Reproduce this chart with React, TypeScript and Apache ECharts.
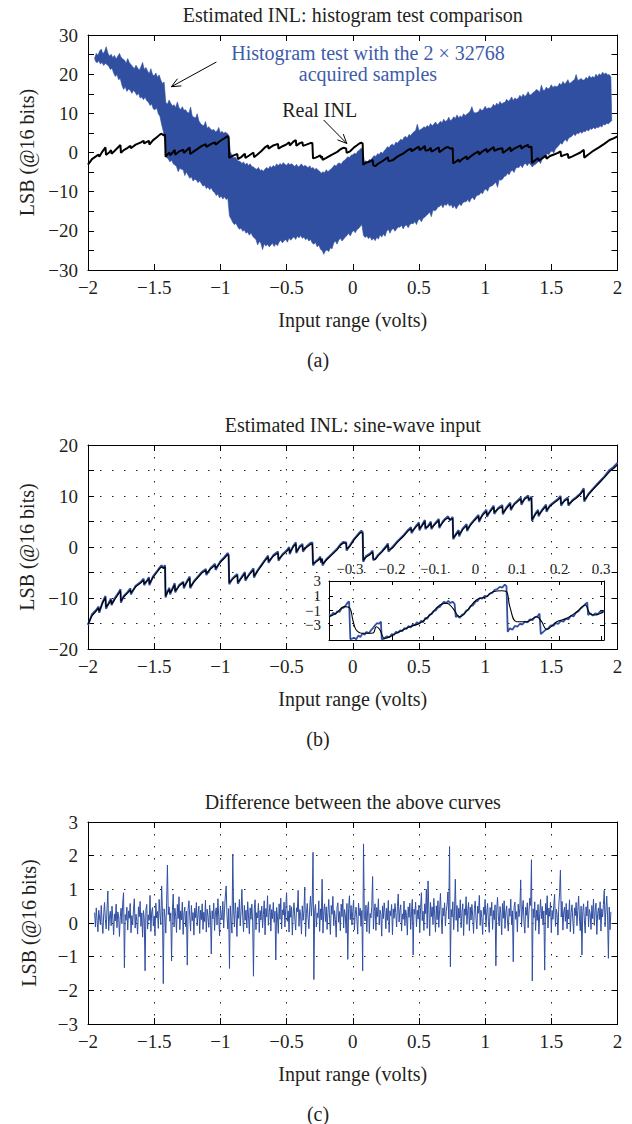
import React, { useEffect, useRef } from "react";
import * as echarts from "echarts";

const FONT = "'Liberation Serif', 'Times New Roman', Times, serif";
const INK = "#231F20";
const BLUE = "#314FA1";
const ANN_BLUE = "#3D5CAB";

// ---------------- texts ----------------
const panelTitles = [
  "Estimated INL: histogram test comparison",
  "Estimated INL: sine-wave input",
  "Difference between the above curves",
];
const panelTags = ["(a)", "(b)", "(c)"];
const xName = "Input range (volts)";
const yName = "LSB (@16 bits)";
const histLabel = ["Histogram test with the 2 \u00d7 32768", "acquired samples"];
const realLabel = "Real INL";

// ---------------- panel (a): histogram-test band (sample grid, 0.0125 V) ----------------
const BAND_X0 = -1.95;
const BAND_STEP = 0.0125;
const bandUpper = [
  24.1, 25.3, 24.8, 25.9, 26.4, 25.2, 25.8, 27.0,
  25.4, 24.6, 25.1, 24.2, 24.8, 23.9, 24.6, 25.3,
  24.3, 23.9, 23.6, 22.8, 24.0, 22.9, 22.5, 21.9,
  21.4, 22.3, 21.6, 21.0, 21.9, 23.0, 21.2, 21.7,
  20.8, 20.1, 21.4, 19.9, 19.6, 20.3, 19.2, 19.8,
  18.5, 17.6, 18.0, 12.8, 12.3, 13.4, 12.6, 11.9,
  12.2, 11.5, 12.9, 11.4, 11.0, 11.7, 10.8, 10.9,
  10.2, 10.1, 11.6, 9.3, 9.0, 8.8, 9.9, 8.1,
  7.4, 7.0, 6.8, 7.9, 6.2, 6.6, 6.0, 5.7,
  5.9, 5.3, 5.5, 6.4, 5.0, 5.4, 4.9, 5.2,
  4.9, 4.5, 0.2, -0.7, -1.4, -1.2, -1.9, -2.2,
  -2.3, -2.8, -2.4, -3.1, -2.7, -3.3, -2.9, -3.6,
  -3.7, -4.1, -4.3, -3.8, -4.6, -4.4, -4.8, -4.2,
  -3.8, -4.2, -3.5, -3.9, -3.3, -3.7, -2.9, -3.4,
  -2.8, -3.2, -2.6, -3.0, -3.3, -2.7, -3.1, -2.9,
  -3.2, -3.6, -3.0, -3.7, -3.4, -2.9, -3.6, -3.3,
  -3.5, -3.9, -3.4, -4.1, -3.8, -4.4, -4.0, -4.5,
  -4.8, -5.3, -4.9, -5.2, -4.4, -4.9, -4.5, -4.2,
  -3.7, -3.2, -3.5, -2.8, -2.7, -3.0, -2.3, -2.0,
  -1.6, -1.1, -1.3, -0.7, -0.6, -0.2, -0.4, 0.3,
  0.6, 1.1, 0.9, -2.4, -2.1, -2.5, -1.8, -1.9,
  -1.2, -0.8, -1.0, -0.3, -0.5, 0.1, -0.2, 0.4,
  0.9, 1.5, 1.2, 1.9, 2.1, 1.7, 2.6, 2.4,
  2.9, 3.4, 3.1, 3.9, 4.1, 3.7, 4.6, 4.3,
  4.9, 5.3, 5.6, 7.2, 5.6, 5.9, 6.1, 6.6,
  6.3, 6.9, 6.5, 7.4, 6.8, 7.2, 7.8, 7.1,
  7.4, 8.0, 7.6, 8.5, 7.9, 8.2, 9.0, 8.1,
  8.4, 9.1, 8.7, 9.6, 8.9, 9.3, 9.0, 9.9,
  9.4, 9.8, 10.1, 10.6, 11.7, 10.3, 10.1, 10.2,
  10.4, 11.2, 10.7, 11.0, 11.8, 11.1, 11.4, 11.3,
  11.5, 12.3, 11.8, 12.6, 12.1, 13.0, 12.4, 12.7,
  12.8, 13.6, 13.1, 13.4, 14.2, 13.3, 13.9, 13.6,
  13.8, 14.6, 14.1, 14.9, 14.3, 14.7, 15.5, 14.6,
  14.9, 15.3, 15.6, 16.1, 15.8, 15.4, 17.2, 15.9,
  15.9, 16.7, 16.2, 16.5, 17.3, 16.6, 17.0, 16.8,
  16.9, 17.7, 17.2, 18.1, 17.5, 17.9, 18.6, 17.6,
  17.9, 18.3, 18.6, 19.9, 18.4, 18.6, 18.9, 18.5,
  18.5, 19.2, 18.8, 19.6, 19.0, 19.4, 19.1, 20.0,
  19.4, 20.1, 19.7, 20.5, 20.0, 20.3, 19.8, 19.9,
  19.3,
];
const bandLower = [
  23.3, 22.9, 23.4, 22.6, 23.0, 22.2, 22.8, 22.4,
  22.1, 21.2, 21.5, 20.3, 19.4, 19.9, 18.6, 18.9,
  17.2, 16.1, 16.8, 15.6, 16.2, 15.9, 15.1, 15.8,
  15.4, 14.6, 15.1, 13.9, 14.2, 13.5, 14.1, 13.2,
  12.9, 12.0, 12.4, 11.1, 10.9, 11.4, 9.9, 9.2,
  7.1, 5.4, 3.0, -1.3, -1.6, -2.4, -1.9, -2.9,
  -3.2, -3.6, -4.9, -4.0, -4.3, -4.4, -5.9, -5.0,
  -5.8, -6.6, -6.2, -7.3, -6.8, -7.0, -7.7, -7.2,
  -7.9, -8.6, -8.3, -9.2, -8.8, -9.5, -9.0, -9.9,
  -10.2, -11.0, -10.6, -11.6, -11.1, -11.9, -11.3, -12.0,
  -11.7, -16.2, -17.0, -17.9, -18.4, -18.1, -19.0, -19.6,
  -19.3, -20.1, -19.8, -20.6, -20.3, -21.1, -20.5, -21.4,
  -21.8, -22.2, -23.6, -22.7, -23.2, -24.8, -23.3, -23.9,
  -23.4, -24.1, -23.6, -23.2, -24.0, -23.3, -23.8, -22.9,
  -22.4, -23.1, -22.5, -22.2, -22.9, -21.8, -22.4, -21.9,
  -21.5, -22.2, -21.3, -21.8, -21.2, -21.9, -21.6, -22.3,
  -21.9, -22.6, -22.2, -23.1, -23.4, -23.0, -24.1, -23.6,
  -24.7, -25.0, -26.0, -25.1, -24.9, -25.3, -24.3, -24.6,
  -23.1, -22.6, -23.4, -22.4, -21.9, -22.6, -22.1, -21.6,
  -21.2, -20.6, -21.3, -20.4, -19.9, -20.5, -19.7, -19.4,
  -18.9, -18.4, -21.2, -21.7, -21.3, -22.0, -21.5, -22.4,
  -21.9, -22.5, -21.7, -22.1, -21.0, -21.6, -20.8, -21.4,
  -20.1, -19.6, -20.6, -19.7, -19.4, -20.1, -19.5, -19.0,
  -19.1, -18.6, -19.5, -18.7, -18.5, -19.2, -18.4, -18.1,
  -18.2, -17.6, -18.4, -17.3, -17.0, -17.7, -16.8, -16.5,
  -16.1, -15.7, -15.2, -16.4, -14.7, -14.9, -14.6, -13.9,
  -13.8, -13.3, -14.1, -13.2, -13.5, -12.9, -13.7, -13.3,
  -14.2, -13.5, -14.4, -13.7, -13.1, -13.6, -12.8, -12.6,
  -12.6, -12.0, -12.7, -11.8, -11.5, -12.1, -11.2, -10.9,
  -10.8, -10.2, -10.5, -9.6, -9.3, -9.9, -8.8, -8.6,
  -8.4, -8.0, -7.6, -8.9, -6.9, -7.1, -6.8, -6.1,
  -6.0, -5.3, -5.7, -4.8, -4.5, -5.1, -4.0, -3.8,
  -3.8, -3.2, -3.9, -3.0, -2.8, -3.4, -2.7, -3.1,
  -3.7, -3.2, -3.0, -2.6, -2.2, -2.8, -1.7, -1.2,
  -0.8, -0.3, -0.6, 0.2, 0.4, -0.1, 0.9, 1.3,
  1.8, 2.4, 2.1, 2.9, 3.3, 2.8, 3.7, 3.9,
  4.2, 4.7, 4.3, 5.0, 4.8, 5.3, 4.9, 5.4,
  5.3, 5.8, 5.5, 6.1, 5.9, 6.4, 6.0, 6.5,
  6.3, 6.8, 6.5, 7.2, 7.0, 7.5, 7.3, 7.8,
  8.1,
];

// ---------------- INL curve vertices (volts) ----------------
const inlX = [
  -2.0, -1.97, -1.94, -1.92, -1.915, -1.89, -1.868, -1.864, -1.84, -1.826,
  -1.822, -1.8, -1.77, -1.755, -1.751, -1.73, -1.7, -1.68, -1.676, -1.64,
  -1.6, -1.58, -1.576, -1.545, -1.54, -1.536, -1.51, -1.48, -1.46, -1.445,
  -1.43, -1.418, -1.414, -1.4, -1.385, -1.38, -1.36, -1.345, -1.341, -1.31,
  -1.28, -1.276, -1.25, -1.232, -1.228, -1.2, -1.17, -1.14, -1.11, -1.106,
  -1.07, -1.04, -1.036, -1.0, -0.97, -0.945, -0.938, -0.933, -0.91, -0.89,
  -0.872, -0.868, -0.84, -0.815, -0.811, -0.78, -0.75, -0.746, -0.72, -0.69,
  -0.66, -0.64, -0.636, -0.6, -0.565, -0.561, -0.53, -0.5, -0.48, -0.476,
  -0.45, -0.43, -0.426, -0.4, -0.38, -0.376, -0.35, -0.32, -0.305, -0.3,
  -0.28, -0.26, -0.245, -0.24, -0.232, -0.228, -0.2, -0.16, -0.12, -0.09,
  -0.07, -0.05, -0.046, -0.02, 0.01, 0.03, 0.05, 0.065, 0.075, 0.079,
  0.1, 0.13, 0.15, 0.155, 0.17, 0.19, 0.22, 0.25, 0.265, 0.27,
  0.3, 0.34, 0.38, 0.42, 0.44, 0.444, 0.48, 0.5, 0.504, 0.53,
  0.545, 0.549, 0.57, 0.59, 0.594, 0.62, 0.65, 0.654, 0.68, 0.7,
  0.72, 0.735, 0.755, 0.759, 0.78, 0.8, 0.804, 0.83, 0.86, 0.864,
  0.89, 0.92, 0.95, 0.954, 0.98, 1.01, 1.014, 1.04, 1.065, 1.069,
  1.1, 1.13, 1.134, 1.16, 1.19, 1.194, 1.22, 1.25, 1.27, 1.274,
  1.3, 1.325, 1.33, 1.35, 1.354, 1.38, 1.4, 1.404, 1.43, 1.46,
  1.464, 1.49, 1.52, 1.55, 1.57, 1.574, 1.6, 1.625, 1.629, 1.66,
  1.69, 1.72, 1.745, 1.749, 1.78, 1.82, 1.86, 1.9, 1.94, 1.97,
  2.0,
];
// panel (a) black: real INL
const realInlA = [
  -3.1, -1.7, -1.0, -0.5, -1.1, 0.3, 1.3, -0.6, 0.0, 0.6,
  -0.3, 0.4, 1.4, 1.9, -0.1, 0.6, 1.2, 1.7, 1.1, 2.0,
  2.6, 3.0, 2.3, 2.9, 3.0, 2.0, 3.1, 3.9, 4.5, 4.8,
  4.4, 4.6, -1.1, -0.5, 0.0, -0.7, 0.0, 0.7, -0.6, 0.3,
  0.7, -0.1, 0.7, 1.3, -0.4, 0.3, 1.0, 1.7, 2.1, 1.4,
  2.2, 2.6, 2.0, 3.0, 3.6, 4.2, 3.9, -1.4, -0.9, -0.6,
  -0.4, -1.7, -1.1, -0.3, -1.4, -0.7, 0.0, -1.2, -0.5, 0.4,
  1.4, 1.8, 1.0, 1.8, 2.2, 1.0, 1.6, 2.1, 2.6, 1.8,
  2.7, 3.2, 1.7, 2.4, 2.6, 1.7, 2.0, 2.4, 2.4, -1.5,
  -1.3, -1.0, -0.7, -1.4, -1.0, -1.9, -1.4, -0.6, 0.1, 0.9,
  1.2, 1.0, -0.1, 0.3, 1.3, 1.8, 2.3, 2.5, 2.3, -3.1,
  -2.6, -2.3, -1.9, -3.2, -3.5, -2.9, -2.3, -1.6, -1.2, -2.2,
  -2.0, -1.0, -0.3, 0.7, 1.0, 0.3, 1.1, 1.5, 0.6, 1.2,
  1.7, 0.5, 0.6, 1.2, 0.2, 0.7, 1.3, 0.1, 0.7, 1.2,
  1.4, 1.0, 1.1, -2.8, -2.3, -1.8, -2.4, -1.6, -1.0, -1.8,
  -1.0, -0.3, 0.3, -0.5, 0.3, 0.9, 0.1, 0.8, 1.4, 0.4,
  0.9, 1.1, -0.1, 0.5, 1.3, 0.3, 1.0, 1.5, 1.8, 1.0,
  1.6, 1.9, 1.3, 1.5, -2.7, -1.9, -1.4, -2.1, -1.5, -0.8,
  -1.6, -0.9, -0.5, -0.1, 0.3, -1.0, -0.6, -0.4, -1.4, -1.0,
  -0.5, 0.0, 0.7, -1.3, -0.5, 0.5, 1.3, 2.2, 3.2, 3.6,
  4.1,
];
// panel (b) black
const sineBlack = [
  -15.1, -13.5, -12.6, -12.0, -12.6, -11.0, -9.9, -11.8, -11.0, -10.4,
  -11.2, -10.4, -9.2, -8.6, -10.6, -9.8, -9.0, -8.4, -9.0, -7.8,
  -7.0, -6.5, -7.2, -6.4, -6.2, -7.2, -6.0, -5.0, -4.3, -3.9,
  -4.2, -3.9, -9.6, -8.9, -8.3, -9.0, -8.2, -7.4, -8.6, -7.6,
  -7.0, -7.8, -6.8, -6.1, -7.8, -6.9, -6.0, -5.1, -4.6, -5.2,
  -4.2, -3.6, -4.2, -3.0, -2.2, -1.5, -1.7, -7.0, -6.4, -5.9,
  -5.6, -6.9, -6.1, -5.2, -6.3, -5.4, -4.5, -5.7, -4.8, -3.7,
  -2.6, -2.0, -2.8, -1.8, -1.2, -2.4, -1.6, -0.9, -0.3, -1.1,
  0.0, 0.6, -0.9, 0.0, 0.3, -0.6, -0.1, 0.5, 0.6, -3.3,
  -3.0, -2.6, -2.2, -2.8, -2.4, -3.3, -2.6, -1.6, -0.6, 0.4,
  0.8, 0.7, -0.4, 0.2, 1.4, 2.0, 2.6, 2.9, 2.7, -2.6,
  -2.0, -1.5, -1.0, -2.3, -2.5, -1.8, -1.0, -0.1, 0.4, -0.6,
  -0.2, 1.0, 2.0, 3.2, 3.6, 3.0, 4.0, 4.5, 3.6, 4.4,
  5.0, 3.8, 4.0, 4.7, 3.8, 4.4, 5.2, 4.0, 4.8, 5.4,
  5.7, 5.4, 5.6, 1.8, 2.4, 3.0, 2.4, 3.4, 4.2, 3.4,
  4.3, 5.2, 6.0, 5.2, 6.2, 7.0, 6.2, 7.0, 7.8, 6.8,
  7.5, 7.9, 6.7, 7.5, 8.4, 7.5, 8.3, 9.0, 9.4, 8.6,
  9.4, 9.8, 9.3, 9.6, 5.4, 6.4, 7.0, 6.3, 7.1, 8.0,
  7.2, 8.0, 8.6, 9.2, 9.7, 8.4, 9.0, 9.4, 8.4, 9.0,
  9.6, 10.3, 11.2, 9.2, 10.2, 11.4, 12.5, 13.6, 14.8, 15.4,
  16.1,
];
// panel (b) blue
const sineBlue = [
  -15.3, -13.2, -12.4, -11.7, -12.9, -10.8, -9.6, -12.1, -10.8, -10.1,
  -11.4, -10.1, -9.0, -8.3, -10.9, -9.6, -8.8, -8.1, -9.3, -7.6,
  -6.8, -6.2, -7.5, -6.2, -5.9, -7.5, -5.8, -4.8, -4.1, -3.6,
  -4.0, -3.6, -9.9, -8.7, -8.0, -9.3, -8.0, -7.1, -8.9, -7.4,
  -6.8, -8.1, -6.6, -5.8, -8.1, -6.7, -5.8, -4.9, -4.3, -5.5,
  -4.0, -3.3, -4.5, -2.8, -2.0, -1.2, -1.5, -7.3, -6.2, -5.7,
  -5.3, -7.2, -5.9, -4.9, -6.6, -5.2, -4.2, -6.0, -4.6, -3.5,
  -2.4, -1.7, -3.1, -1.6, -0.9, -2.7, -1.4, -0.7, 0.0, -1.4,
  0.2, 0.9, -1.2, 0.2, 0.6, -0.9, 0.1, 0.8, 0.9, -3.6,
  -2.8, -2.4, -1.9, -3.1, -2.2, -3.6, -2.4, -1.4, -0.4, 0.6,
  1.0, 0.9, -0.7, 0.4, 1.6, 2.2, 2.8, 3.2, 2.9, -2.9,
  -1.8, -1.3, -0.7, -2.6, -2.3, -1.6, -0.8, 0.1, 0.7, -0.9,
  0.0, 1.2, 2.2, 3.4, 3.9, 2.7, 4.2, 4.8, 3.3, 4.6,
  5.3, 3.5, 4.2, 5.0, 3.5, 4.6, 5.5, 3.7, 5.0, 5.6,
  6.0, 5.2, 5.9, 1.5, 2.6, 3.3, 2.1, 3.6, 4.5, 3.1,
  4.5, 5.4, 6.3, 4.9, 6.4, 7.3, 5.9, 7.2, 8.1, 6.5,
  7.7, 8.2, 6.4, 7.7, 8.7, 7.2, 8.5, 9.2, 9.7, 8.3,
  9.6, 10.1, 9.0, 9.9, 5.1, 6.6, 7.3, 6.0, 7.3, 8.3,
  6.9, 8.2, 8.8, 9.4, 10.0, 8.1, 9.2, 9.7, 8.1, 9.2,
  9.8, 10.5, 11.5, 8.9, 10.4, 11.6, 12.7, 13.8, 15.1, 15.7,
  16.5,
];

// ---------------- inset (zoom of panel b) ----------------
const insetBlackX = [
  -0.35, -0.333, -0.313, -0.3, -0.293, -0.285, -0.269, -0.245, -0.237, -0.229,
  -0.217, -0.189, -0.157, -0.133, -0.109, -0.085, -0.069, -0.054, -0.038, -0.022,
  0.002, 0.026, 0.042, 0.062, 0.074, 0.082, 0.098, 0.122, 0.146, 0.158,
  0.17, 0.194, 0.218, 0.242, 0.262, 0.273, 0.285, 0.305,
];
const insetBlackY = [
  -1.84, -1.38, -0.48, -0.7, -2.29, -3.64, -4.09, -4.05, -3.2, -3.55,
  -4.77, -4.09, -3.2, -2.74, -1.61, -0.25, -0.02, -0.7, -1.84, -1.16,
  0.42, 0.87, 1.55, 1.68, 1.55, -0.48, -2.52, -2.52, -1.84, -2.52,
  -3.55, -2.52, -2.06, -1.16, -0.25, -1.38, -1.61, -1.16,
];
const insetBlueX = [
  -0.35, -0.345, -0.34, -0.335, -0.33, -0.325, -0.32, -0.315, -0.31, -0.305,
  -0.302, -0.299, -0.29, -0.285, -0.28, -0.275, -0.27, -0.265, -0.26, -0.255,
  -0.25, -0.245, -0.24, -0.235, -0.23, -0.226, -0.224, -0.218, -0.212, -0.205,
  -0.2, -0.195, -0.19, -0.185, -0.18, -0.175, -0.17, -0.165, -0.16, -0.155,
  -0.15, -0.145, -0.14, -0.135, -0.13, -0.125, -0.12, -0.115, -0.11, -0.105,
  -0.1, -0.095, -0.09, -0.085, -0.08, -0.075, -0.07, -0.065, -0.06, -0.055,
  -0.05, -0.047, -0.043, -0.038, -0.033, -0.028, -0.022, -0.017, -0.012, -0.006,
  0.0, 0.005, 0.01, 0.016, 0.022, 0.028, 0.034, 0.04, 0.046, 0.052,
  0.058, 0.064, 0.07, 0.074, 0.077, 0.082, 0.088, 0.094, 0.1, 0.106,
  0.112, 0.118, 0.124, 0.13, 0.136, 0.142, 0.148, 0.153, 0.156, 0.162,
  0.168, 0.174, 0.18, 0.186, 0.192, 0.198, 0.204, 0.21, 0.216, 0.222,
  0.228, 0.234, 0.24, 0.246, 0.252, 0.258, 0.263, 0.267, 0.269, 0.275,
  0.28, 0.286, 0.292, 0.298, 0.303, 0.307,
];
const insetBlueY = [
  -1.5, -1.7, -1.3, -1.5, -1.1, -1.2, -0.7, -0.6, -0.3, 0.1,
  0.2, -4.9, -4.7, -4.9, -4.4, -4.6, -4.1, -4.3, -3.9, -4.1,
  -3.7, -3.4, -3.0, -2.7, -2.8, -2.5, -4.9, -4.8, -4.5, -4.6,
  -4.2, -4.3, -3.9, -4.0, -3.7, -3.8, -3.4, -3.5, -3.1, -3.3,
  -2.9, -3.0, -2.6, -2.8, -2.4, -2.6, -2.0, -2.1, -1.6, -1.5,
  -1.1, -1.0, -0.6, -0.5, -0.1, 0.2, 0.0, 0.3, 0.0, 0.2,
  -0.1, -1.9, -1.7, -2.0, -1.6, -1.5, -1.0, -0.9, -0.4, -0.3,
  0.2, 0.3, 0.7, 0.6, 1.0, 0.9, 1.3, 1.4, 1.8, 1.9,
  2.2, 2.1, 2.5, 2.3, -3.9, -3.4, -3.6, -3.1, -3.2, -2.8,
  -2.9, -2.5, -2.6, -2.2, -2.3, -1.9, -1.8, -1.4, -4.2, -3.9,
  -3.6, -3.4, -3.0, -3.1, -2.7, -2.8, -2.4, -2.5, -2.1, -2.2,
  -1.7, -1.8, -1.3, -1.1, -0.7, -0.4, -0.1, 0.1, -1.6, -1.4,
  -1.7, -1.4, -1.5, -1.1, -1.3, -1.0,
];
const insetTicks = [-0.3, -0.2, -0.1, 0, 0.1, 0.2, 0.3];
const insetYTicks = [-3, -1, 1, 3];

// ---------------- panel (c): difference (sample grid, 0.00625 V) ----------------
const DIFF_X0 = -1.95;
const DIFF_STEP = 0.00625;
const diffVals = [
  0.31, -0.12, 0.45, 0.08, -0.26, 0.38, 0.15, -0.05, 0.52, 0.02,
  -0.31, 0.28, 0.61, 0.10, -0.18, 0.42, 0.95, -0.22, 0.18, 0.35,
  -0.08, 0.50, 0.12, -0.35, 0.27, 0.06, 0.56, -0.14, 0.33, 0.21,
  -0.40, 0.18, 0.44, -0.02, 0.62, 0.90, -1.33, 0.25, 0.08, 0.47,
  -0.21, 0.36, 0.14, 0.58, -0.29, 0.22, -0.06, 0.41, 0.72, -0.15,
  0.26, 0.05, -0.33, 0.48, 0.19, 0.64, -0.10, 0.30, -0.42, 0.37,
  0.12, -1.42, 0.40, 0.55, -0.18, 0.24, 0.08, 0.82, -0.25, 0.33,
  0.46, -0.09, 0.21, -0.38, 0.59, 0.15, 0.34, -0.16, 0.70, 0.28,
  -0.05, 1.10, 0.35, -1.80, 0.42, 0.18, -0.30, 0.60, 1.72, 0.25,
  0.48, 0.05, 0.30, -1.13, 0.38, 0.86, -0.12, 0.44, 0.20, -0.28,
  0.55, 0.13, 0.78, -0.20, 0.36, 0.09, 0.62, -0.34, 0.29, 0.47,
  -0.11, 0.35, -1.25, 0.40, 0.66, 0.18, -0.24, 0.52, 0.07, 0.31,
  -0.36, 0.44, 0.16, 0.61, -0.08, 0.27, 0.50, -0.31, 0.38, 0.10,
  0.57, -0.19, 0.32, 0.04, 0.68, -0.27, 0.41, 0.20, -0.13, 0.53,
  0.24, -0.92, 0.36, 0.12, 0.59, -0.22, 0.30, 0.45, -0.06, 0.72,
  0.18, -0.38, 0.48, 0.26, 0.09, 0.64, -0.15, 0.39, 0.80, 1.10,
  0.22, -0.18, 0.43, -1.35, 0.51, 0.07, -0.30, 2.05, 0.36, -0.12,
  0.60, 0.25, -0.40, 0.47, 0.14, 0.70, -0.09, 0.33, 1.00, 0.19,
  -0.26, 0.52, 0.08, 0.38, -0.15, 0.63, 0.21, -0.32, 0.45, 0.11,
  0.56, 0.04, -1.58, 0.42, 0.69, -0.20, 0.31, 0.15, 0.58, -0.28,
  0.37, 0.09, 0.50, -0.14, 0.26, 0.66, -0.35, 0.43, 0.18, 0.81,
  -0.07, 0.32, 0.55, -0.24, 0.40, 0.13, 0.61, 0.02, 0.35, -1.10,
  0.46, 0.20, -0.31, 0.57, 0.11, 0.74, -0.18, 0.39, 0.24, 0.62,
  -0.12, 0.44, 0.90, 0.05, 0.36, -0.27, 0.53, 0.17, 0.48, -0.36,
  0.29, 0.60, 0.12, -0.21, 0.45, 0.33, 0.97, -0.10, 0.40, 0.22,
  -0.33, 0.51, 0.08, 0.36, 1.07, -0.40, 0.28, 0.58, 0.14, -0.17,
  0.47, 0.80, 0.21, 0.63, 2.10, -1.68, 0.38, 0.55, -0.12, 0.30,
  0.16, 0.66, -0.25, 0.42, 0.09, 1.30, -0.30, 0.35, 0.57, 0.04,
  0.48, -0.19, 0.31, 0.70, 0.13, -0.34, 0.52, 0.26, 0.79, -0.08,
  0.37, 0.11, -0.42, 0.45, 0.60, 0.02, 0.34, -0.23, 0.56, 0.19,
  0.71, -0.15, 0.40, 0.24, -0.30, 0.58, -1.08, 0.43, 0.81, 0.10,
  0.52, -0.06, 0.35, 0.68, -0.21, 0.27, 0.47, 0.12, -0.33, 0.59,
  0.22, 0.44, -0.10, 0.37, -1.42, 2.35, 0.20, 0.06, 0.53, -0.26,
  0.41, 0.63, -0.31, 0.28, 0.15, 0.49, 1.38, -0.18, 0.34, 0.57,
  -0.22, 0.46, 0.19, 0.72, -0.06, 0.38, 0.25, -0.39, 0.51, 0.13,
  0.60, 0.30, -0.17, 0.44, 0.08, 0.67, -0.28, 0.36, 0.21, 0.55,
  -0.35, 0.42, 0.14, 0.58, 0.31, -0.12, 0.49, 0.86, 0.03, 0.37,
  0.54, -0.24, 0.27, 0.11, 0.65, -0.08, 0.39, 0.22, -0.36, 0.48,
  0.17, 0.59, -0.19, 0.33, 0.70, -0.95, 0.41, 0.26, 0.62, -0.11,
  0.38, 0.12, 0.53, -0.29, 0.46, 0.90, 0.07, 0.35, -0.22, 0.57,
  0.28, 1.00, -0.16, 1.25, 0.40, -0.38, 0.61, 0.19, 0.48, -0.05,
  0.73, 0.24, -0.27, 0.51, 0.10, 0.66, -0.13, 0.39, 0.88, 0.17,
  -0.32, 0.45, 0.21, 0.60, -0.09, 0.34, 0.56, 0.92, 0.12, 2.27,
  -1.30, 0.40, 0.18, 0.63, -0.20, 0.35, 1.30, 0.08, 0.52, -0.26,
  0.44, 0.15, 0.69, -0.14, 0.31, 0.57, -0.37, 0.42, 0.23, 0.78,
  -0.04, 0.36, 0.61, -0.23, 0.47, 0.09, 0.55, 0.20, -0.31, 0.43,
  0.65, 0.13, -0.18, 0.50, 0.29, 0.82, -0.07, 0.38, 0.16, -0.34,
  0.47, 0.25, 0.70, -0.12, 0.33, 0.58, 0.04, -0.28, 0.46, 0.21,
  0.62, -0.19, 0.37, 0.10, 0.54, -1.27, 0.41, 0.76, 0.18, -0.09,
  0.49, 0.27, -0.35, 0.58, 0.14, 0.66, -0.16, 0.32, 0.51, 0.06,
  -0.24, 0.43, 0.20, 0.71, -0.05, 0.36, -1.15, 0.48, 0.62, 0.11,
  0.34, -0.27, 0.56, 0.19, 0.44, 1.28, -0.12, 0.39, 0.67, 0.02,
  -0.30, 0.47, 0.23, 0.60, -0.14, 0.35, 0.74, 0.52, 1.88, -1.72,
  0.42, 0.16, 0.63, -0.22, 0.38, 0.08, 0.55, -0.33, 0.29, 0.70,
  0.13, 0.49, -0.06, 0.36, -1.40, 0.58, 0.24, 0.81, -0.15, 0.44,
  0.20, 0.62, -0.29, 0.37, 0.11, 0.53, 0.85, -0.10, 0.41, 0.26,
  -0.36, 0.50, 0.90, 1.57, 0.18, 0.64, -0.21, 0.33, 0.47, 0.05,
  0.58, -0.17, 0.39, 0.12, 0.69, -0.26, 0.31, 0.54, 0.09, -0.32,
  0.45, 0.22, 0.61, -0.08, 0.37, 0.80, 0.15, -0.23, 0.50, -0.95,
  0.34, 0.57, 0.06, -0.30, 0.48, 0.21, 0.66, -0.12, 0.40, 0.27,
  -0.19, 0.52, 0.13, 0.71, -0.07, 0.36, 0.59, -0.34, 0.28, 0.45,
  0.10, 0.63, -0.24, 0.42, 0.18, 0.55, 0.97, -0.11, 0.38, 0.80,
  0.21, -1.05, 0.47, -0.20, 0.33,
];

// ---------------- annotation anchors (data coordinates of panel a) ----------------
const histTextAt = [0.115, 25.4];
const histArrow = { from: [-1.03, 23.1], to: [-1.37, 16.8] };
const realTextAt = [-0.25, 10.9];
const realArrow = { from: [-0.22, 8.3], to: [-0.045, 2.3] };

// ---------------- layout ----------------
const GRIDS = [
  { left: 88, top: 35, width: 529.5, height: 235 },
  { left: 88, top: 445, width: 529.5, height: 204 },
  { left: 88, top: 822, width: 529.5, height: 202 },
  { left: 329, top: 581, width: 275, height: 59 },
];
const Y_AXES = [
  { min: -30, max: 30, interval: 5, labelEvery: 10 },
  { min: -20, max: 20, interval: 5, labelEvery: 10 },
  { min: -3, max: 3, interval: 1, labelEvery: 1 },
];
const INSET_X_MIN = -0.35;
const TICK_FS = 19;
const NAME_FS = 20;
const INSET_FS = 15;

function fmt(v: number): string {
  const r = Math.round(v * 1000) / 1000;
  if (r === 0) return "0";
  return (r < 0 ? "\u2212" : "") + String(Math.abs(r));
}

const DOTS = { color: "#222", width: 1, type: [1.5, 10.5] as any };
const axisLineStyle = { show: true, onZero: false, lineStyle: { color: "#000", width: 1 } };

function buildOption(): any {
  const xAxis: any[] = [];
  const yAxis: any[] = [];
  for (let g = 0; g < 3; g++) {
    const grid = g > 0;
    const baseX = {
      type: "value", gridIndex: g, min: -2, max: 2, interval: 0.5,
      axisLine: axisLineStyle,
      axisTick: { show: true, inside: true, length: 6, lineStyle: { color: "#000" } },
    };
    xAxis.push({
      ...baseX, position: "bottom",
      axisLabel: { show: true, formatter: fmt, margin: 8, fontSize: TICK_FS, fontFamily: FONT, color: INK },
      splitLine: { show: grid, lineStyle: DOTS },
      name: xName, nameLocation: "middle", nameGap: 40,
      nameTextStyle: { fontSize: NAME_FS, fontFamily: FONT, color: INK },
    });
    xAxis.push({ ...baseX, position: "top", axisLabel: { show: false }, splitLine: { show: false } });
    const ya = Y_AXES[g];
    const baseY = {
      type: "value", gridIndex: g, min: ya.min, max: ya.max, interval: ya.interval,
      axisLine: axisLineStyle,
      axisTick: { show: true, inside: true, length: 6, lineStyle: { color: "#000" } },
    };
    yAxis.push({
      ...baseY, position: "left",
      axisLabel: {
        show: true, margin: 10, fontSize: TICK_FS, fontFamily: FONT, color: INK,
        formatter: (v: number) => (Math.abs(v % ya.labelEvery) < 1e-9 ? fmt(v) : ""),
      },
      splitLine: { show: grid, lineStyle: DOTS },
      name: yName, nameLocation: "middle", nameGap: 49, nameRotate: 90,
      nameTextStyle: { fontSize: NAME_FS, fontFamily: FONT, color: INK },
    });
    yAxis.push({ ...baseY, position: "right", axisLabel: { show: false }, splitLine: { show: false } });
  }
  // inset axes
  const insetX = {
    type: "value", gridIndex: 3, min: INSET_X_MIN, max: 0.307,
    axisLine: axisLineStyle, splitLine: { show: false },
  };
  xAxis.push({
    ...insetX, position: "top",
    axisTick: { show: true, inside: true, length: 4, customValues: insetTicks, lineStyle: { color: "#000" } },
    axisLabel: { show: true, customValues: insetTicks, formatter: fmt, margin: 5, fontSize: INSET_FS, fontFamily: FONT, color: INK },
  });
  xAxis.push({
    ...insetX, position: "bottom",
    axisTick: { show: true, inside: true, length: 4, customValues: insetTicks, lineStyle: { color: "#000" } },
    axisLabel: { show: false },
  });
  const insetY = {
    type: "value", gridIndex: 3, min: -5, max: 3,
    axisLine: axisLineStyle, splitLine: { show: false },
    axisTick: { show: true, inside: true, length: 4, customValues: insetYTicks, lineStyle: { color: "#000" } },
  };
  // the overlapping inset y labels are drawn as graphic texts (ECharts would thin them out)
  yAxis.push({ ...insetY, position: "left", axisLabel: { show: false } });
  yAxis.push({ ...insetY, position: "right", axisLabel: { show: false } });

  const bandRows = bandUpper.map((u, i) => [BAND_X0 + i * BAND_STEP, u, bandLower[i]]);

  const series: any[] = [
    {
      type: "custom", xAxisIndex: 0, yAxisIndex: 0, silent: true, clip: true,
      data: bandRows, encode: { x: 0, y: [1, 2] },
      renderItem: (params: any, api: any) => {
        if (params.dataIndex !== 0) return null;
        const top = bandRows.map((r) => api.coord([r[0], r[1]]));
        const bot = bandRows.map((r) => api.coord([r[0] + BAND_STEP / 2, r[2]])).reverse();
        return {
          type: "polygon",
          shape: { points: top.concat(bot) },
          style: { fill: BLUE, stroke: BLUE, lineWidth: 0.6 },
        };
      },
      z: 2,
    },
    {
      type: "line", xAxisIndex: 0, yAxisIndex: 0, showSymbol: false, silent: true,
      data: inlX.map((x, i) => [x, realInlA[i]]),
      lineStyle: { color: "#000", width: 2 }, z: 3,
    },
    {
      type: "line", xAxisIndex: 2, yAxisIndex: 2, showSymbol: false, silent: true,
      data: inlX.map((x, i) => [x, sineBlue[i]]),
      lineStyle: { color: BLUE, width: 2 }, z: 3,
    },
    {
      type: "line", xAxisIndex: 2, yAxisIndex: 2, showSymbol: false, silent: true,
      data: inlX.map((x, i) => [x, sineBlack[i]]),
      lineStyle: { color: "#000", width: 1.2 }, z: 4,
    },
    {
      type: "line", xAxisIndex: 6, yAxisIndex: 6, showSymbol: false, silent: true,
      data: insetBlueX.map((x, i) => [x, insetBlueY[i]]),
      lineStyle: { color: BLUE, width: 1.8 }, z: 5,
    },
    {
      type: "line", xAxisIndex: 6, yAxisIndex: 6, showSymbol: false, silent: true, smooth: 0.4,
      data: insetBlackX.map((x, i) => [x, insetBlackY[i]]),
      lineStyle: { color: "#000", width: 1.1 }, z: 6,
    },
    {
      type: "line", xAxisIndex: 4, yAxisIndex: 4, showSymbol: false, silent: true,
      data: diffVals.map((v, i) => [DIFF_X0 + i * DIFF_STEP, v]),
      lineStyle: { color: BLUE, width: 1 }, z: 3,
    },
  ];

  return {
    animation: false,
    backgroundColor: "#fff",
    grid: GRIDS.map((g) => ({ ...g, containLabel: false, show: false })),
    xAxis, yAxis, series,
  };
}

function arrow(from: number[], to: number[]): any[] {
  const dx = from[0] - to[0];
  const dy = from[1] - to[1];
  const len = Math.hypot(dx, dy);
  const ux = dx / len, uy = dy / len;
  const L = 10, a = 0.42;
  const rot = (ang: number) => [
    to[0] + L * (ux * Math.cos(ang) - uy * Math.sin(ang)),
    to[1] + L * (ux * Math.sin(ang) + uy * Math.cos(ang)),
  ];
  return [
    { type: "line", z: 100, shape: { x1: from[0], y1: from[1], x2: to[0], y2: to[1] }, style: { stroke: "#000", lineWidth: 1 } },
    { type: "polyline", z: 100, shape: { points: [rot(a), to, rot(-a)] }, style: { stroke: "#000", lineWidth: 1, fill: null } },
  ];
}

function txt(text: string, x: number, y: number, size: number, color: string, align = "center"): any {
  return {
    type: "text", z: 100, x, y,
    style: { text, fontSize: size, fontFamily: FONT, fill: color, align, verticalAlign: "middle" },
  };
}

function buildGraphic(chart: any): any[] {
  const px = (p: number[]) => chart.convertToPixel({ xAxisIndex: 0, yAxisIndex: 0 }, p) as number[];
  const pxInset = (p: number[]) => chart.convertToPixel({ xAxisIndex: 6, yAxisIndex: 6 }, p) as number[];
  const els: any[] = [];
  for (let g = 0; g < 3; g++) {
    const gr = GRIDS[g];
    els.push(txt(panelTitles[g], gr.left + gr.width / 2, gr.top - 20, NAME_FS, INK));
    els.push(txt(panelTags[g], 318, gr.top + gr.height + 90, NAME_FS, INK));
  }
  const h = px(histTextAt);
  els.push(txt(histLabel[0], h[0], h[1], NAME_FS, ANN_BLUE));
  els.push(txt(histLabel[1], h[0], h[1] + 21, NAME_FS, ANN_BLUE));
  els.push(...arrow(px(histArrow.from), px(histArrow.to)));
  const r = px(realTextAt);
  els.push(txt(realLabel, r[0], r[1], NAME_FS, INK));
  els.push(...arrow(px(realArrow.from), px(realArrow.to)));
  for (const v of insetYTicks) {
    const p = pxInset([INSET_X_MIN, v]);
    els.push(txt(fmt(v), p[0] - 8, p[1], INSET_FS, INK, "right"));
  }
  return els;
}

export default function App() {
  const ref = useRef<HTMLDivElement>(null);
  useEffect(() => {
    if (!ref.current) return;
    const chart = echarts.init(ref.current, undefined, { renderer: "svg" });
    chart.setOption(buildOption());
    chart.setOption({ graphic: buildGraphic(chart) });
    return () => chart.dispose();
  }, []);
  return (
    <div
      ref={ref}
      style={{ position: "absolute", left: 0, top: 0, width: 632, height: 1124, background: "#fff" }}
    />
  );
}
